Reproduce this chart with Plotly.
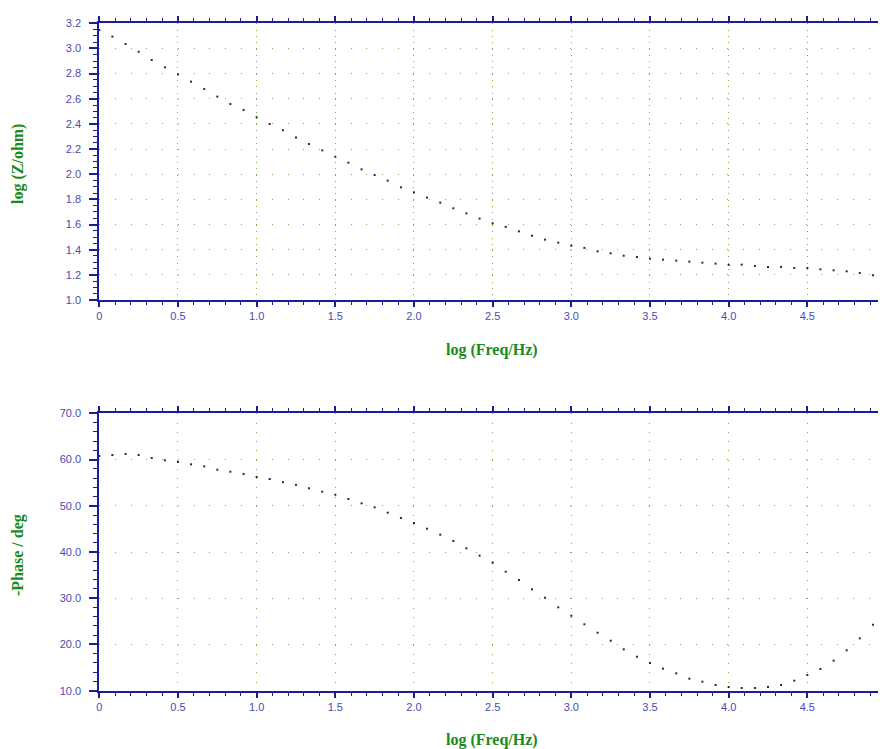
import plotly.graph_objects as go

log_freq = [0.000, 0.083, 0.167, 0.250, 0.333, 0.417, 0.500, 0.583, 0.667, 0.750,
            0.833, 0.917, 1.000, 1.083, 1.167, 1.250, 1.333, 1.417, 1.500, 1.583,
            1.667, 1.750, 1.833, 1.917, 2.000, 2.083, 2.167, 2.250, 2.333, 2.417,
            2.500, 2.583, 2.667, 2.750, 2.833, 2.917, 3.000, 3.083, 3.167, 3.250,
            3.333, 3.417, 3.500, 3.583, 3.667, 3.750, 3.833, 3.917, 4.000, 4.083,
            4.167, 4.250, 4.333, 4.417, 4.500, 4.583, 4.667, 4.750, 4.833, 4.917]

log_z = [3.147, 3.094, 3.035, 2.974, 2.908, 2.850, 2.794, 2.736, 2.678, 2.617,
         2.558, 2.511, 2.453, 2.399, 2.350, 2.292, 2.240, 2.190, 2.139, 2.092,
         2.039, 1.994, 1.949, 1.896, 1.856, 1.814, 1.774, 1.729, 1.689, 1.647,
         1.610, 1.581, 1.546, 1.511, 1.480, 1.456, 1.432, 1.414, 1.387, 1.371,
         1.352, 1.342, 1.329, 1.321, 1.313, 1.305, 1.297, 1.289, 1.279, 1.281,
         1.271, 1.263, 1.263, 1.255, 1.255, 1.244, 1.236, 1.228, 1.215, 1.197]

neg_phase = [60.76, 60.98, 61.20, 60.98, 60.33, 59.83, 59.47, 58.97, 58.53, 57.80,
             57.37, 56.87, 56.22, 55.79, 55.10, 54.52, 53.78, 53.04, 52.39, 51.46,
             50.53, 49.67, 48.50, 47.35, 46.27, 45.04, 43.74, 42.38, 40.80, 39.20,
             37.68, 35.74, 33.94, 31.93, 30.11, 28.04, 26.22, 24.36, 22.54, 20.81,
             18.95, 17.35, 15.99, 14.76, 13.76, 12.60, 11.95, 11.23, 10.80, 10.58,
             10.58, 10.80, 11.23, 12.16, 13.39, 14.69, 16.49, 18.74, 21.33, 24.27]

x_tickvals = [0, 0.5, 1.0, 1.5, 2.0, 2.5, 3.0, 3.5, 4.0, 4.5, 5.0]
x_ticktext = ["0", "0.5", "1.0", "1.5", "2.0", "2.5", "3.0", "3.5", "4.0", "4.5", ""]
x_last_label = "5"
z_tickvals = [1.0, 1.2, 1.4, 1.6, 1.8, 2.0, 2.2, 2.4, 2.6, 2.8, 3.0, 3.2]
z_ticktext = ["1.0", "1.2", "1.4", "1.6", "1.8", "2.0", "2.2", "2.4", "2.6", "2.8", "3.0", "3.2"]
p_tickvals = [10, 20, 30, 40, 50, 60, 70]
p_ticktext = ["10.0", "20.0", "30.0", "40.0", "50.0", "60.0", "70.0"]

# The page body has an 8px margin; shift everything so it lands on the reference pixels.
OFF = 8
W, H = 886 - OFF, 749 - OFF
AX = "#1c1c96"
TICKFONT = dict(family="Liberation Sans Narrow, Arial Narrow, Liberation Sans, Arial", size=11, color="#4a4ab4")
TITLEFONT = dict(family="Liberation Serif, Times New Roman, serif", size=16, color="#1a8a1a")
GRID = "#7ab04a"

def px_x(v):
    return (v - OFF) / W

def px_y(v):
    return 1 - (v - OFF) / H

fig = go.Figure()
fig.add_trace(go.Scatter(x=log_freq, y=log_z, mode="markers", xaxis="x", yaxis="y",
                         marker=dict(symbol="square", size=2, color="#2a2a2a", line=dict(width=0)),
                         showlegend=False, cliponaxis=False))
fig.add_trace(go.Scatter(x=log_freq, y=neg_phase, mode="markers", xaxis="x2", yaxis="y2",
                         marker=dict(symbol="square", size=2, color="#2a2a2a", line=dict(width=0)),
                         showlegend=False, cliponaxis=False))

xl = px_x(99.3)

def xaxis_cfg(anchor):
    return dict(domain=[xl, 1.0], range=[0, 5.0], anchor=anchor,
                automargin=False,
                tickmode="array", tickvals=x_tickvals, ticktext=x_ticktext,
                ticks="outside", ticklen=5, tickwidth=1.5, tickcolor=AX,
                showline=True, linecolor=AX, linewidth=2, mirror="allticks",
                zeroline=False, showgrid=True, gridcolor=GRID, gridwidth=1,
                griddash="1px,5.3px", tickfont=TICKFONT,
                minor=dict(dtick=0.1, tick0=0, ticks="outside", ticklen=3, tickwidth=1.2,
                           tickcolor=AX, showgrid=False))

def yaxis_cfg(anchor, dom, rng, tv, tt, mdt):
    return dict(domain=dom, range=rng, anchor=anchor, automargin=False,
                tickmode="array", tickvals=tv, ticktext=tt,
                ticks="outside", ticklen=8, tickwidth=1.5, tickcolor=AX,
                showline=True, linecolor=AX, linewidth=2, mirror=False,
                zeroline=False, showgrid=True, gridcolor=GRID, gridwidth=1,
                griddash="1px,14.7px", tickfont=TICKFONT, ticklabelstandoff=6,
                minor=dict(dtick=mdt, tick0=rng[0], ticks="outside", ticklen=4, tickwidth=1.2,
                           tickcolor=AX, showgrid=False))

x1 = xaxis_cfg("y")
x2 = xaxis_cfg("y2")
x2["griddash"] = "1px,8.25px"

fig.update_layout(
    width=W, height=H,
    margin=dict(l=0, r=0, t=0, b=0, autoexpand=False),
    paper_bgcolor="white", plot_bgcolor="white",
    xaxis=x1,
    yaxis=yaxis_cfg("x", [px_y(300.0), px_y(23.3)], [1.0, 3.2], z_tickvals, z_ticktext, 0.05),
    xaxis2=x2,
    yaxis2=yaxis_cfg("x2", [px_y(690.7), px_y(413.3)], [10, 70], p_tickvals, p_ticktext, 2),
)

# Last tick label "5" sits at the right edge; keep it fully inside the page.
for xref, ylab in (("x", 316), ("x2", 706)):
    fig.add_annotation(text=x_last_label, x=x_tickvals[-1], xref=xref, xanchor="right",
                       y=px_y(ylab), yref="paper", yanchor="middle",
                       showarrow=False, font=TICKFONT)

annotations = [
    dict(text="<b>log (Freq/Hz)</b>", x=492, y=350),
    dict(text="<b>log (Freq/Hz)</b>", x=492, y=740),
    dict(text="<b>log (Z/ohm)</b>", x=18, y=164, textangle=-90),
    dict(text="<b>-Phase / deg</b>", x=18, y=555, textangle=-90),
]
for a in annotations:
    fig.add_annotation(text=a["text"], x=px_x(a["x"]), y=px_y(a["y"]),
                       xref="paper", yref="paper", showarrow=False,
                       xanchor="center", yanchor="middle",
                       textangle=a.get("textangle", 0), font=TITLEFONT)

fig.write_html("out.html")
